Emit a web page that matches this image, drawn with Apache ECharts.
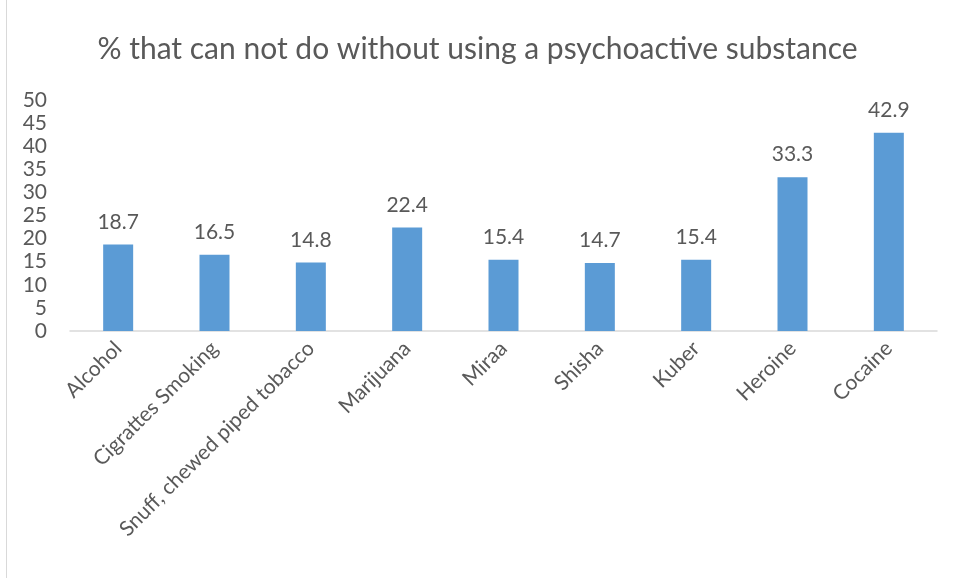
<!DOCTYPE html>
<html>
<head>
<meta charset="utf-8">
<script src="https://cdn.jsdelivr.net/npm/echarts@6/dist/echarts.min.js"></script>
<style>html,body{margin:0;padding:0;background:#fff;}#c{width:955px;height:578px;}</style>
</head>
<body>
<div id="c"></div>
<script>
const categories = ["Alcohol", "Cigrattes Smoking", "Snuff, chewed piped tobacco", "Marijuana", "Miraa", "Shisha", "Kuber", "Heroine", "Cocaine"];
const values = [18.7, 16.5, 14.8, 22.4, 15.4, 14.7, 15.4, 33.3, 42.9];
const titleText = "% that can not do without using a psychoactive substance";

const chart = echarts.init(document.getElementById('c'), null, {renderer: 'canvas'});
const font = 'Lato, "Open Sans", sans-serif';
chart.setOption({
  animation: false,
  backgroundColor: '#fff',
  title: {
    text: titleText, left: 'center', top: 29,
    textStyle: {fontFamily: font, fontSize: 30, fontWeight: 'normal', color: '#595959'}
  },
  graphic: [{type: 'line', shape: {x1: 6.5, y1: 0, x2: 6.5, y2: 578}, style: {stroke: '#d9d9d9', lineWidth: 1}}],
  grid: {left: 70, right: 18, top: 100, bottom: 247, containLabel: false},
  xAxis: {
    type: 'category', data: categories,
    axisLine: {lineStyle: {color: '#d9d9d9', width: 1.5}},
    axisTick: {show: false},
    axisLabel: {rotate: 45, interval: 0, margin: 14, fontFamily: font, fontSize: 21, color: '#595959'}
  },
  yAxis: {
    type: 'value', min: 0, max: 50, interval: 5,
    axisLine: {show: false}, axisTick: {show: false}, splitLine: {show: false},
    axisLabel: {margin: 23, fontFamily: font, fontSize: 21, color: '#595959'}
  },
  series: [{
    type: 'bar', data: values, barWidth: 30,
    itemStyle: {color: '#5b9bd5'},
    label: {show: true, position: 'top', distance: 12, fontFamily: font, fontSize: 21, color: '#595959'}
  }]
});
</script>
</body>
</html>
